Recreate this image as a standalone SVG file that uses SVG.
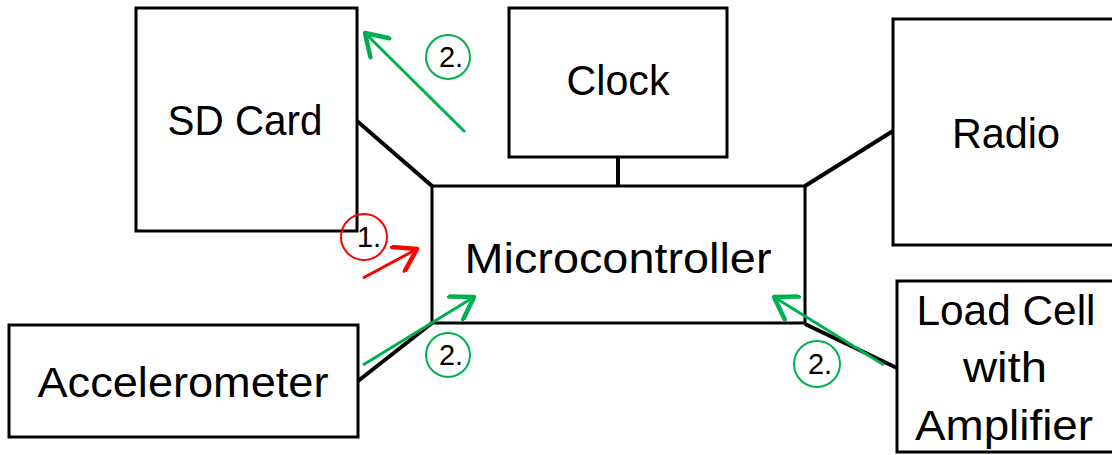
<svg xmlns="http://www.w3.org/2000/svg" width="1112" height="455" viewBox="0 0 1112 455">
<style>
.box{fill:#fff;stroke:#000;stroke-width:3}
.lbl{font-family:"Liberation Sans",Arial,sans-serif;font-size:42px;fill:#000;text-anchor:middle}
.conn{stroke:#000;stroke-width:4;fill:none}
.ga{stroke:#00B050;stroke-width:3;fill:none;marker-end:url(#gh)}
.ra{stroke:#FF0000;stroke-width:3;fill:none;marker-end:url(#rh)}
.gc{fill:none;stroke:#00B050;stroke-width:2}
.rc{fill:none;stroke:#FF0000;stroke-width:2}
.num{font-family:"Liberation Sans",Arial,sans-serif;font-size:29px;fill:#000;text-anchor:middle}
</style>
<defs>
<marker id="gh" markerUnits="userSpaceOnUse" markerWidth="30" markerHeight="30" refX="18" refY="10" orient="auto" viewBox="0 0 20 20">
<polyline points="4,1 18,10 4,19" fill="none" stroke="#00B050" stroke-width="3" stroke-linecap="round" stroke-linejoin="round"/>
</marker>
<marker id="rh" markerUnits="userSpaceOnUse" markerWidth="30" markerHeight="30" refX="18" refY="10" orient="auto" viewBox="0 0 20 20">
<polyline points="4,1 18,10 4,19" fill="none" stroke="#FF0000" stroke-width="3" stroke-linecap="round" stroke-linejoin="round"/>
</marker>
</defs>
<rect width="1112" height="455" fill="#fff"/>
<g id="connectors">
<line class="conn" x1="357" y1="121" x2="432" y2="186"/>
<line class="conn" x1="618" y1="157" x2="618" y2="186"/>
<line class="conn" x1="893" y1="131" x2="805" y2="186"/>
<line class="conn" x1="358" y1="381" x2="432" y2="323"/>
<line class="conn" x1="805" y1="324" x2="897" y2="368"/>
</g>
<g id="sdcard">
<rect class="box" x="136" y="8" width="221" height="223"/>
<text class="lbl" x="245" y="135" textLength="155" lengthAdjust="spacingAndGlyphs">SD Card</text>
</g>
<g id="clock">
<rect class="box" x="509" y="8" width="218" height="149"/>
<text class="lbl" x="618" y="95" textLength="103" lengthAdjust="spacingAndGlyphs">Clock</text>
</g>
<g id="radio">
<rect class="box" x="893" y="19" width="230" height="226"/>
<text class="lbl" x="1006" y="148" textLength="108" lengthAdjust="spacingAndGlyphs">Radio</text>
</g>
<g id="microcontroller">
<rect class="box" x="432" y="186" width="373" height="137"/>
<text class="lbl" x="618" y="273" textLength="307" lengthAdjust="spacingAndGlyphs">Microcontroller</text>
</g>
<g id="accelerometer">
<rect class="box" x="9" y="325" width="349" height="112"/>
<text class="lbl" x="183" y="397" textLength="291" lengthAdjust="spacingAndGlyphs">Accelerometer</text>
</g>
<g id="loadcell">
<rect class="box" x="897" y="281" width="230" height="171"/>
<text class="lbl" x="1006" y="325" textLength="179" lengthAdjust="spacingAndGlyphs">Load Cell</text>
<text class="lbl" x="1005" y="382" textLength="84" lengthAdjust="spacingAndGlyphs">with</text>
<text class="lbl" x="1004" y="440" textLength="178" lengthAdjust="spacingAndGlyphs">Amplifier</text>
</g>
<g id="annotations">
<line class="ra" x1="363" y1="278" x2="417" y2="249"/>
<circle class="rc" cx="364" cy="237" r="23"/>
<text class="num" x="369" y="247">1.</text>
<line class="ga" x1="465" y1="132" x2="365" y2="33"/>
<circle class="gc" cx="448" cy="57" r="22"/>
<text class="num" x="451" y="67">2.</text>
<line class="ga" x1="363" y1="365" x2="474" y2="297"/>
<circle class="gc" cx="448" cy="355" r="22"/>
<text class="num" x="451" y="365">2.</text>
<line class="ga" x1="884" y1="365" x2="774" y2="297"/>
<circle class="gc" cx="817" cy="364" r="23"/>
<text class="num" x="820" y="374">2.</text>
</g>
</svg>
